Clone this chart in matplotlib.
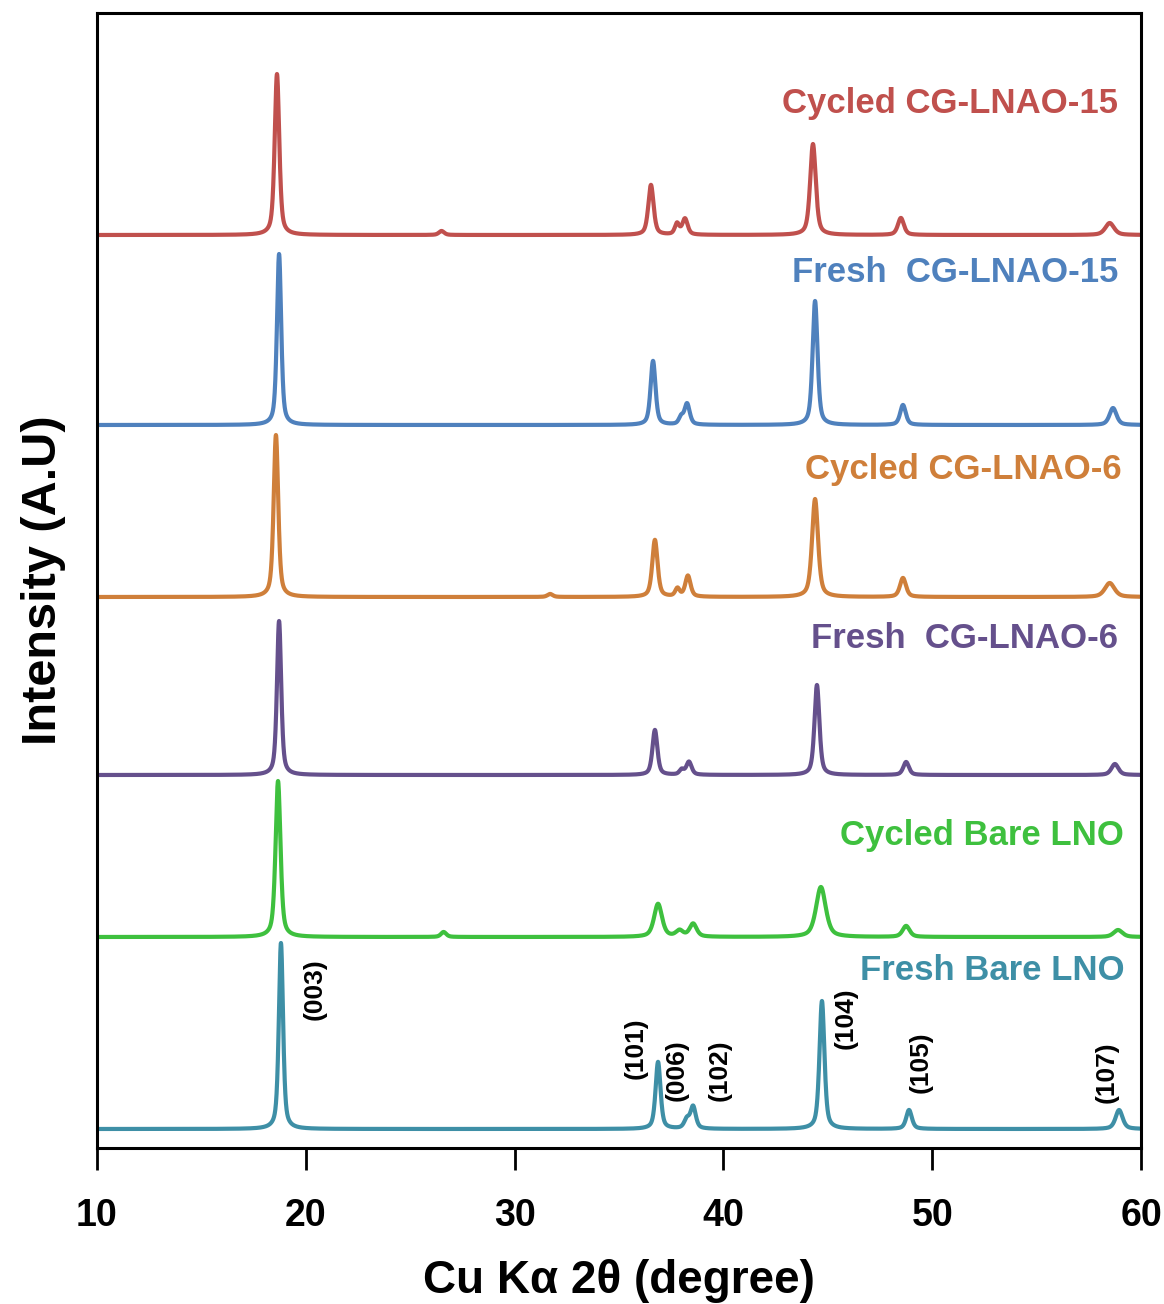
import numpy as np
import matplotlib
matplotlib.use("Agg")
import matplotlib.pyplot as plt

# Peak tables: 2theta position, height above baseline, FWHM (deg)
names = ["Cycled CG-LNAO-15", "Fresh  CG-LNAO-15", "Cycled CG-LNAO-6",
         "Fresh  CG-LNAO-6", "Cycled Bare LNO", "Fresh Bare LNO"]
colors = ["#C0504D", "#4F81BD", "#CF7F3A", "#65508C", "#3EC03E", "#3E8FA6"]
offsets = [913, 723, 551, 373, 211, 19]

peak_pos = [
    [18.62, 26.5, 36.53, 37.78, 38.16, 44.29, 48.50, 58.50],
    [18.72, 36.63, 37.97, 38.26, 44.39, 48.60, 58.66],
    [18.57, 31.7, 36.72, 37.80, 38.30, 44.39, 48.60, 58.50],
    [18.72, 36.72, 38.00, 38.35, 44.48, 48.75, 58.75],
    [18.67, 26.6, 36.87, 37.90, 38.55, 44.67, 48.75, 58.90],
    [18.81, 36.87, 38.25, 38.55, 44.72, 48.89, 58.95],
]
peak_hgt = [
    [161, 4, 50, 11, 16, 91, 17, 12],
    [171, 64, 7, 21, 124, 20, 17],
    [162, 3, 57, 8, 21, 98, 19, 14],
    [154, 45, 5, 13, 90, 13, 11],
    [156, 5, 33, 6, 13, 50, 11, 7],
    [186, 67, 9, 22, 128, 19, 19],
]
peak_fwhm = [
    [0.26, 0.3, 0.30, 0.25, 0.30, 0.32, 0.34, 0.50],
    [0.24, 0.28, 0.25, 0.30, 0.28, 0.32, 0.40],
    [0.26, 0.3, 0.30, 0.25, 0.30, 0.34, 0.34, 0.55],
    [0.24, 0.28, 0.25, 0.30, 0.28, 0.32, 0.40],
    [0.28, 0.3, 0.45, 0.40, 0.40, 0.55, 0.40, 0.50],
    [0.24, 0.28, 0.30, 0.30, 0.28, 0.32, 0.40],
]

# label text positions (x in degrees, y in axis units)
name_x = [58.9, 58.9, 59.05, 58.9, 59.2, 59.2]
name_y = [1045, 876, 678, 510, 313, 178]

hkl = ["(003)", "(101)", "(006)", "(102)", "(104)", "(105)", "(107)"]
hkl_x = [20.44, 35.82, 37.78, 39.84, 45.87, 49.46, 58.36]
hkl_y = [159, 100, 78, 78, 130, 86, 76]

x = np.linspace(10, 60, 5001)


def pattern(pos, hgt, fwhm, eta=0.55):
    y = np.zeros_like(x)
    for p, h, w in zip(pos, hgt, fwhm):
        g = np.exp(-4 * np.log(2) * ((x - p) / w) ** 2)
        l = 1.0 / (1.0 + 4 * ((x - p) / w) ** 2)
        y += h * (eta * l + (1 - eta) * g)
    return y


fig = plt.figure(figsize=(11.64, 13.04), dpi=100)
ax = fig.add_axes([97 / 1164, 1 - 1148 / 1304, 1044 / 1164, 1135 / 1304])

for i in range(len(names)):
    y = offsets[i] + pattern(peak_pos[i], peak_hgt[i], peak_fwhm[i])
    ax.plot(x, y, color=colors[i], lw=3.0, solid_joinstyle="round")
    ax.text(name_x[i], name_y[i], names[i], color=colors[i], ha="right",
            va="center", fontsize=25, fontweight="bold",
            family=["Liberation Sans", "DejaVu Sans"])

for t, tx, ty in zip(hkl, hkl_x, hkl_y):
    ax.text(tx, ty + offsets[-1] - 19, t, rotation=90, ha="center", va="center",
            fontsize=19, fontweight="bold", color="black",
            family=["Liberation Sans", "DejaVu Sans"])

ax.set_xlim(10, 60)
ax.set_ylim(0, 1135)
ax.set_yticks([])
ax.set_xticks([10, 20, 30, 40, 50, 60])
for s in ax.spines.values():
    s.set_linewidth(2.2)
ax.tick_params(axis="x", direction="out", length=16, width=2, pad=20)
for lab in ax.get_xticklabels():
    lab.set_fontfamily(["Liberation Sans", "DejaVu Sans"])
    lab.set_fontweight("bold")
    lab.set_fontsize(27)

ax.set_xlabel("Cu K\u03b1 2\u03b8 (degree)", fontsize=33, fontweight="bold",
              family=["Liberation Sans", "DejaVu Sans"], labelpad=18)
ax.set_ylabel("Intensity (A.U)", fontsize=35, fontweight="bold",
              family=["Liberation Sans", "DejaVu Sans"], labelpad=22)

fig.savefig("out.png", dpi=100)
